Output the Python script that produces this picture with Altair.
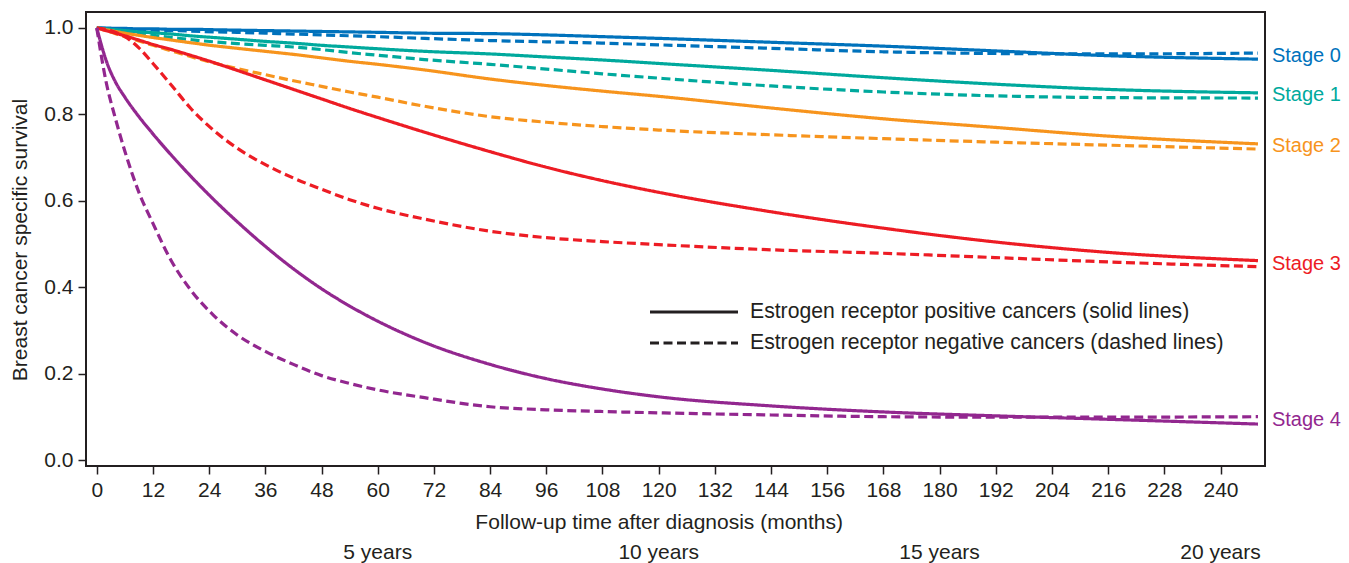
import altair as alt
import pandas as pd

# ---- data ----
months = [0, 2, 4, 6, 9, 12, 16, 20, 25, 30, 36, 42, 48, 54, 60, 70, 84, 96, 108, 120, 144, 168, 192, 216, 248]

stage0_pos = [1.000, 1.000, .999, .999, .998, .998, .997, .997, .996, .995, .994, .993, .992, .991, .990, .988, .987, .984, .980, .976, .967, .958, .947, .936, .928]
stage0_neg = [1.000, .999, .998, .997, .996, .995, .994, .993, .991, .990, .988, .986, .984, .982, .980, .976, .971, .968, .965, .961, .953, .945, .941, .940, .942]
stage1_pos = [1.000, .998, .996, .994, .991, .989, .986, .982, .978, .974, .969, .965, .960, .956, .952, .946, .940, .933, .926, .918, .902, .885, .870, .858, .850]
stage1_neg = [1.000, .997, .994, .991, .987, .983, .978, .973, .968, .964, .960, .956, .950, .943, .937, .927, .916, .905, .894, .884, .866, .852, .843, .839, .838]
stage2_pos = [1.000, .996, .992, .988, .983, .978, .972, .966, .959, .953, .946, .939, .931, .923, .916, .903, .882, .867, .854, .842, .815, .790, .770, .750, .732]
stage2_neg = [1.000, .994, .987, .980, .970, .960, .947, .934, .919, .906, .892, .878, .865, .852, .840, .819, .795, .782, .772, .764, .753, .744, .736, .729, .720]
stage3_pos = [1.000, .994, .988, .982, .972, .962, .950, .937, .920, .902, .880, .858, .836, .814, .793, .759, .714, .678, .647, .620, .575, .537, .505, .481, .462]
stage3_neg = [1.000, .997, .990, .980, .954, .918, .867, .815, .763, .722, .684, .653, .627, .603, .583, .558, .530, .515, .506, .499, .487, .479, .469, .459, .448]
stage4_pos = [1.000, .925, .875, .840, .795, .755, .705, .658, .603, .552, .495, .443, .397, .357, .322, .273, .222, .189, .165, .147, .126, .112, .103, .095, .084]
stage4_neg = [1.000, .875, .790, .715, .620, .548, .460, .395, .335, .290, .252, .222, .196, .178, .163, .145, .124, .117, .113, .110, .105, .101, .100, .100, .101]

stages = ["Stage 0", "Stage 1", "Stage 2", "Stage 3", "Stage 4"]
stage_colors = ["#0072BC", "#00A99D", "#F7941D", "#ED1C24", "#92278F"]
er_labels = ["Estrogen receptor positive cancers (solid lines)",
             "Estrogen receptor negative cancers (dashed lines)"]

x_ticks = list(range(0, 241, 12))
y_ticks = [0.0, 0.2, 0.4, 0.6, 0.8, 1.0]
year_months = [60, 120, 180, 240]
year_labels = ["5 years", "10 years", "15 years", "20 years"]

# ---- tables ----
series = {
    "Stage 0": (stage0_pos, stage0_neg),
    "Stage 1": (stage1_pos, stage1_neg),
    "Stage 2": (stage2_pos, stage2_neg),
    "Stage 3": (stage3_pos, stage3_neg),
    "Stage 4": (stage4_pos, stage4_neg),
}
rows = []
for st, (pos, neg) in series.items():
    for er, vals in zip(er_labels, (pos, neg)):
        for m, v in zip(months, vals):
            rows.append({"month": m, "survival": v, "stage": st, "er": er, "series": st + er})
df = pd.DataFrame(rows)

end_rows = [{"month": months[-1], "survival": (pos[-1] + neg[-1]) / 2, "stage": st}
            for st, (pos, neg) in series.items()]
df_end = pd.DataFrame(end_rows)
df_years = pd.DataFrame({"month": year_months, "label": year_labels})

FONT = "Liberation Sans"
INK = "#231f20"

xscale = alt.Scale(domain=[-2.3, 249.5], nice=False, zero=False)
yscale = alt.Scale(domain=[-0.013, 1.037], nice=False, zero=False)
cscale = alt.Scale(domain=stages, range=stage_colors)

lines = alt.Chart(df).mark_line(strokeWidth=3.2, interpolate="monotone", clip=True).encode(
    x=alt.X("month:Q", scale=xscale,
            axis=alt.Axis(values=x_ticks, title="Follow-up time after diagnosis (months)",
                          titleX=572.7, titleY=62, titleAlign="center", titleBaseline="alphabetic",
                          labelOverlap=False, labelFlush=False)),
    y=alt.Y("survival:Q", scale=yscale,
            axis=alt.Axis(values=y_ticks, format=".1f", title="Breast cancer specific survival",
                          titleX=-59.3, titleY=227.5, titleAlign="center", titleBaseline="alphabetic",
                          titleAngle=270, labelOverlap=False, labelFlush=False)),
    color=alt.Color("stage:N", scale=cscale, legend=None),
    strokeDash=alt.StrokeDash(
        "er:N",
        scale=alt.Scale(domain=er_labels, range=[[1, 0], [9, 4.5]]),
        legend=alt.Legend(title=None, orient="none", legendX=562, legendY=289.5,
                          symbolType="stroke", symbolSize=88 * 88, symbolStrokeWidth=3.2,
                          symbolStrokeColor=INK, clipHeight=21,
                          labelFontSize=21.2, labelFont=FONT, labelColor=INK, labelLimit=0,
                          labelOffset=10, rowPadding=9)),
    detail="series:N",
)

stage_text = alt.Chart(df_end).mark_text(align="left", baseline="middle", dx=14,
                                         fontSize=20, font=FONT, clip=False).encode(
    x=alt.X("month:Q", scale=xscale),
    y=alt.Y("survival:Q", scale=yscale),
    text="stage:N",
    color=alt.Color("stage:N", scale=cscale, legend=None),
)

year_text = alt.Chart(df_years).mark_text(align="center", baseline="alphabetic",
                                          fontSize=21, font=FONT, color=INK, clip=False).encode(
    x=alt.X("month:Q", scale=xscale),
    y=alt.value(547),
    text="label:N",
)

chart = alt.layer(lines, stage_text, year_text).properties(
    width=1179, height=454,
    autosize=alt.AutoSizeParams(type="none"),
    padding={"left": 78, "top": 4, "right": 76, "bottom": 97},
    background="white",
).configure_view(
    stroke=INK, strokeWidth=2,
).configure_axis(
    domain=False, grid=False, ticks=True, tickSize=8, tickWidth=1.5, tickColor=INK,
    labelFont=FONT, labelFontSize=21, labelColor=INK, labelPadding=5,
    titleFont=FONT, titleFontSize=21, titleColor=INK, titleFontWeight="normal",
)

chart.save("out.html", embed_options={"renderer": "svg", "actions": False})
